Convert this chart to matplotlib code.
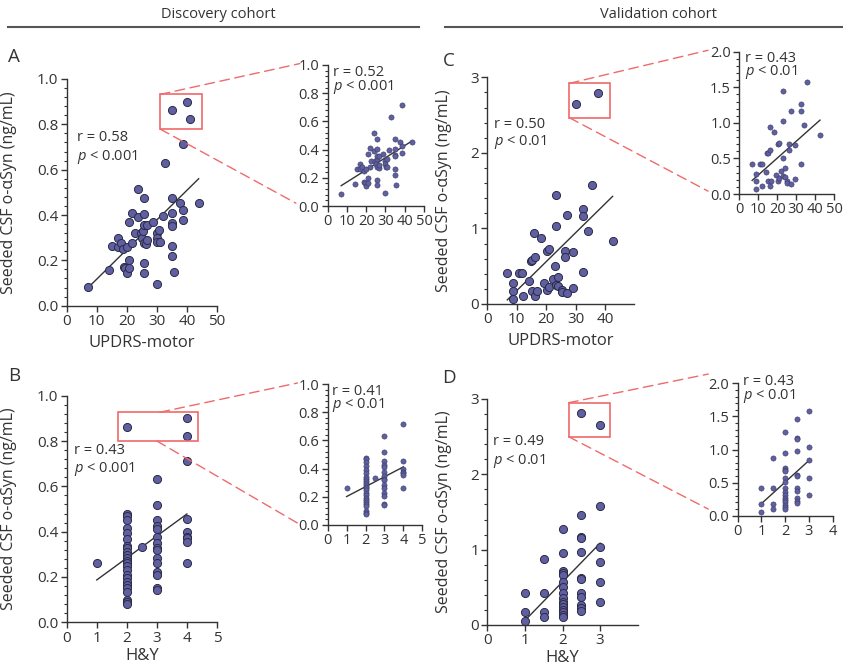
import numpy as np
import matplotlib

matplotlib.use("Agg")
import matplotlib.pyplot as plt
from matplotlib.patches import Rectangle, ConnectionPatch
from matplotlib.ticker import MultipleLocator, AutoMinorLocator

plt.rcParams["font.family"] = ["Open Sans", "DejaVu Sans"]
plt.rcParams["mathtext.fontset"] = "custom"
plt.rcParams["mathtext.rm"] = "Open Sans"
plt.rcParams["mathtext.it"] = "Open Sans:italic"

INK = "#333333"
DOT = "#5f5fa2"
DOT_EDGE = "#2b2b45"
RED = "#f06a6a"

# ---------------------------------------------------------------- data
# Discovery cohort, UPDRS-motor vs seeded CSF o-aSyn (ng/mL)
disc_updrs = [7, 14, 15, 17, 17, 18, 18.6, 19, 19.3, 20, 20, 20.8, 20.8, 20.8,
              21.8, 21.8, 22.7, 23.8, 23.8, 24.6, 25, 25.5, 25.7, 25.7, 25.7,
              25.7, 25.7, 25.7, 26.4, 26.8, 26.8, 28.8, 29.9, 29.9, 30.2, 29.9,
              30.8, 31, 31.9, 32.8, 34.9, 34.9, 34.9, 34.9, 34.9, 34.9, 35.7,
              37.7, 38.8, 38.8, 38.8, 43.9, 34.9, 39.9, 41]
disc_updrs_val = [0.082, 0.156, 0.263, 0.30, 0.26, 0.275, 0.25, 0.172, 0.165,
                  0.143, 0.26, 0.20, 0.165, 0.37, 0.41, 0.278, 0.32, 0.39,
                  0.515, 0.32, 0.297, 0.33, 0.405, 0.473, 0.356, 0.275, 0.187,
                  0.146, 0.272, 0.355, 0.29, 0.37, 0.32, 0.30, 0.28, 0.094,
                  0.334, 0.28, 0.397, 0.631, 0.476, 0.407, 0.363, 0.353, 0.263,
                  0.219, 0.149, 0.451, 0.422, 0.378, 0.713, 0.454, 0.865,
                  0.899, 0.822]

# Discovery cohort, H&Y stage
disc_hy = [1] + [2] * 25 + [2.5] + [3] * 15 + [4] * 9
disc_hy_val = [0.263,
               0.863, 0.476, 0.47, 0.45, 0.415, 0.393, 0.366, 0.338, 0.326,
               0.312, 0.297, 0.282, 0.272, 0.26, 0.25, 0.23, 0.21, 0.194,
               0.18, 0.165, 0.15, 0.135, 0.10, 0.088, 0.08,
               0.334,
               0.632, 0.518, 0.451, 0.425, 0.41, 0.378, 0.35, 0.326, 0.319,
               0.282, 0.263, 0.224, 0.209, 0.15, 0.143,
               0.90, 0.824, 0.713, 0.454, 0.40, 0.378, 0.37, 0.356, 0.263]

# Validation cohort, UPDRS-motor
val_updrs = [6.8, 8.8, 8.8, 8.8, 10.9, 11.9, 12, 14.1, 14.8, 15.1, 16, 16.2,
             15.1, 16.3, 17, 18.1, 19.3, 20.2, 21.1, 20.2, 21.1, 22.2, 23.1,
             23.2, 23.2, 23.3, 24.1, 24.1, 25.3, 25.3, 26.3, 26.3, 27.2, 27.2,
             29.2, 29.2, 32.4, 32.4, 32.4, 34.3, 35.5, 42.6, 30.3, 37.5]
val_updrs_val = [0.415, 0.282, 0.176, 0.066, 0.415, 0.415, 0.11, 0.31, 0.573,
                 0.58, 0.944, 0.618, 0.176, 0.11, 0.176, 0.873, 0.273, 0.706,
                 0.723, 0.185, 0.22, 0.326, 0.503, 1.447, 1.032, 0.251, 0.238,
                 0.362, 0.185, 0.154, 0.706, 0.618, 1.173, 0.141, 0.684, 0.207,
                 1.262, 1.165, 0.419, 0.97, 1.57, 0.834, 2.647, 2.797]

# Validation cohort, H&Y stage
val_hy = [1] * 3 + [1.5] * 4 + [2] * 16 + [2.5] * 12 + [3] * 6
val_hy_val = [0.42, 0.177, 0.058,
              0.876, 0.42, 0.177, 0.10,
              1.27, 0.951, 0.72, 0.695, 0.67, 0.575, 0.51, 0.42, 0.354, 0.31,
              0.274, 0.243, 0.20, 0.168, 0.133, 0.102,
              2.81, 1.46, 1.17, 1.16, 0.973, 0.62, 0.606, 0.42, 0.367, 0.265,
              0.221, 0.186,
              2.655, 1.58, 1.04, 0.84, 0.566, 0.31]

r_main = ["r = 0.58", "r = 0.43", "r = 0.50", "r = 0.49"]
p_main = ["< 0.001", "< 0.001", "< 0.01", "< 0.01"]
r_inset = ["r = 0.52", "r = 0.41", "r = 0.43", "r = 0.43"]
p_inset = ["< 0.001", "< 0.01", "< 0.01", "< 0.01"]

# zoom boxes (x0, x1, y0, y1) in data units of each main panel
boxes = [(31.1, 44.9, 0.779, 0.932), (1.72, 4.38, 0.80, 0.927),
         (27.9, 41.8, 2.465, 2.92), (2.16, 3.27, 2.50, 2.95)]

# ---------------------------------------------------------------- layout
W, H = 843, 666
fig = plt.figure(figsize=(W / 100, H / 100), dpi=100)


def px_axes(l, t, r, b):
    return fig.add_axes([l / W, 1 - b / H, (r - l) / W, (b - t) / H])


panels = [
    dict(main=(66.7, 79, 217, 305.7), ins=(327.7, 65, 424, 206),
         x=disc_updrs, y=disc_updrs_val, xlim=(0, 50), xt=np.arange(0, 51, 10),
         ylim=(0, 1), ymaj=0.2, ixt=np.arange(0, 51, 10), ixlim=(0, 50),
         iylim=(0, 1), iymaj=0.2, yfmt="{:.1f}", iyfmt="{:.1f}",
         xlabel="UPDRS-motor", xpad=4, letter="A", let=(-0.39, 1.095),
         ylab_x=-0.33,
         txt=(0.069, 0.74, 0.655), itxt=(0.05, 0.945, 0.846),
         start=[(31.1, 0.932), (31.1, 0.779)], end=[(-0.29, 1.01), (-0.33, 0.02)]),
    dict(main=(66.7, 395.7, 217, 622.3), ins=(327.7, 384, 422.3, 525),
         x=disc_hy, y=disc_hy_val, xlim=(0, 5), xt=np.arange(0, 6),
         ylim=(0, 1), ymaj=0.2, ixt=np.arange(0, 6), ixlim=(0, 5),
         iylim=(0, 1), iymaj=0.2, yfmt="{:.1f}", iyfmt="{:.1f}",
         xlabel="H&Y", xpad=2, letter="B", let=(-0.39, 1.087),
         ylab_x=-0.333,
         txt=(0.049, 0.756, 0.675), itxt=(0.05, 0.945, 0.85),
         start=[(3.1, 0.927), (3.0, 0.80)], end=[(-0.32, 1.007), (-0.32, 0.014)]),
    dict(main=(487.3, 77.3, 634.4, 304), ins=(739.3, 51.7, 834, 194),
         x=val_updrs, y=val_updrs_val, xlim=(0, 50), xt=np.arange(0, 41, 10),
         ylim=(0, 3), ymaj=1, ixt=np.arange(0, 51, 10), ixlim=(0, 50),
         iylim=(0, 2), iymaj=0.5, yfmt="{:.0f}", iyfmt="{:.1f}",
         xlabel="UPDRS-motor", xpad=4, letter="C", let=(-0.30, 1.072),
         ylab_x=-0.24,
         txt=(0.046, 0.794, 0.716), itxt=(0.055, 0.953, 0.86),
         start=[(27.9, 2.92), (27.9, 2.465)], end=[(-0.33, 1.01), (-0.33, 0.02)]),
    dict(main=(487.3, 399, 637.7, 625), ins=(737.7, 383.3, 832.7, 515.7),
         x=val_hy, y=val_hy_val, xlim=(0, 4), xt=np.arange(0, 4),
         ylim=(0, 3), ymaj=1, ixt=np.arange(0, 5), ixlim=(0, 4),
         iylim=(0, 2), iymaj=0.5, yfmt="{:.0f}", iyfmt="{:.1f}",
         xlabel="H&Y", xpad=1, letter="D", let=(-0.30, 1.093),
         ylab_x=-0.237,
         txt=(0.041, 0.811, 0.727), itxt=(0.055, 1.01, 0.904),
         start=[(2.16, 2.95), (2.16, 2.50)], end=[(-0.31, 1.07), (-0.31, 0.05)]),
]


def style(ax, fs):
    for s in ("top", "right"):
        ax.spines[s].set_visible(False)
    for s in ("left", "bottom"):
        ax.spines[s].set_color(INK)
        ax.spines[s].set_linewidth(1.0)
    ax.tick_params(which="major", length=4.5, width=1, color=INK, pad=1.5,
                   labelsize=fs, labelcolor=INK)
    ax.tick_params(which="minor", length=2.5, width=0.8, color=INK)
    ax.tick_params(axis="x", which="minor", bottom=False)
    ax.patch.set_alpha(0)


def fit_line(ax, x, y):
    x, y = np.asarray(x, float), np.asarray(y, float)
    k, b = np.polyfit(x, y, 1)
    xx = np.array([x.min(), x.max()])
    ax.plot(xx, k * xx + b, color=INK, lw=1.0, zorder=3)


for i, p in enumerate(panels):
    ax = px_axes(*p["main"])
    x = np.asarray(p["x"], float)
    y = np.asarray(p["y"], float)
    fit_line(ax, x, y)
    ax.scatter(x, y, s=34, color=DOT, edgecolor=DOT_EDGE, linewidth=0.7,
               zorder=4, clip_on=False)
    ax.set_xlim(*p["xlim"])
    ax.set_ylim(*p["ylim"])
    ax.set_xticks(p["xt"])
    ax.yaxis.set_major_locator(MultipleLocator(p["ymaj"]))
    ax.yaxis.set_minor_locator(AutoMinorLocator(5))
    ax.set_yticklabels([p["yfmt"].format(v) for v in ax.get_yticks()])
    style(ax, 11)
    ax.set_xlabel(p["xlabel"], fontsize=12, color=INK, labelpad=p["xpad"])
    ax.set_ylabel("Seeded CSF o-\u03b1Syn (ng/mL)", fontsize=11.5, color=INK)
    ax.yaxis.set_label_coords(p["ylab_x"], 0.5)
    tx, ty_r, ty_p = p["txt"]
    ax.text(tx, ty_r, r_main[i], transform=ax.transAxes, fontsize=10.5,
            color=INK, va="center", ha="left")
    ax.text(tx, ty_p, r"$p$ " + p_main[i], transform=ax.transAxes,
            fontsize=10.5, color=INK, va="center", ha="left")
    lx, ly = p["let"]
    ax.text(lx, ly, p["letter"], transform=ax.transAxes, fontsize=13.5,
            color=INK, ha="left", va="center")

    bx0, bx1, by0, by1 = boxes[i]
    ax.add_patch(Rectangle((bx0, by0), bx1 - bx0, by1 - by0, fill=False,
                           edgecolor=RED, linewidth=1.2, zorder=5))

    # inset without the boxed outliers
    ins = px_axes(*p["ins"])
    keep = y < by0
    fit_line(ins, x[keep], y[keep])
    ins.scatter(x[keep], y[keep], s=14, color=DOT, edgecolor="#3a3a62",
                linewidth=0.4, zorder=4, clip_on=False)
    ins.set_xlim(*p["ixlim"])
    ins.set_ylim(*p["iylim"])
    ins.set_xticks(p["ixt"])
    ins.yaxis.set_major_locator(MultipleLocator(p["iymaj"]))
    ins.yaxis.set_minor_locator(AutoMinorLocator(5))
    ins.set_yticklabels([p["iyfmt"].format(v) for v in ins.get_yticks()])
    style(ins, 10.5)
    ix, iy_r, iy_p = p["itxt"]
    ins.text(ix, iy_r, r_inset[i], transform=ins.transAxes, fontsize=10.5,
             color=INK, va="center", ha="left")
    ins.text(ix, iy_p, r"$p$ " + p_inset[i], transform=ins.transAxes,
             fontsize=10.5, color=INK, va="center", ha="left")

    for (sx, sy), (ex, ey) in zip(p["start"], p["end"]):
        con = ConnectionPatch(xyA=(sx, sy), coordsA=ax.transData,
                              xyB=(ex, ey), coordsB=ins.transAxes,
                              color=RED, linewidth=1.0,
                              linestyle=(0, (7, 4)))
        fig.add_artist(con)

# cohort headers
for label, cx, x0, x1 in [("Discovery cohort", 218, 8, 419),
                          ("Validation cohort", 658, 445, 843)]:
    fig.text(cx / W, 1 - 14 / H, label, fontsize=10.5, color=INK,
             ha="center", va="center")
    fig.add_artist(plt.Line2D([x0 / W, x1 / W], [1 - 27 / H, 1 - 27 / H],
                              color="#555555", linewidth=1.5))

fig.savefig("out.png", dpi=100)
